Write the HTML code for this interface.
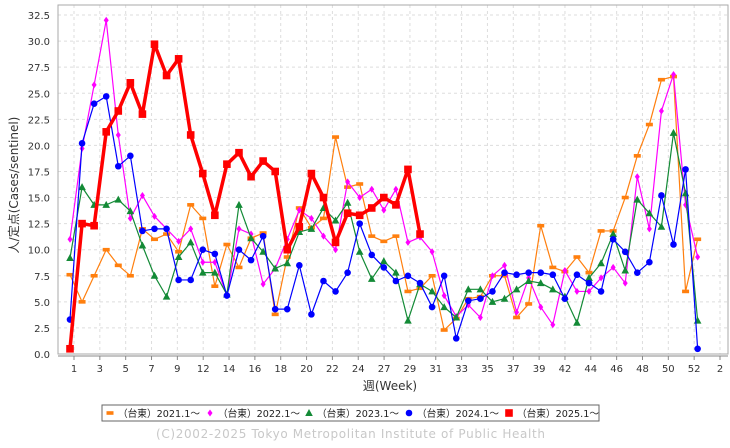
<!DOCTYPE html>
<html><head><meta charset="utf-8"><style>
body{margin:0;background:#fff;font-family:"Liberation Sans","Noto Sans CJK JP",sans-serif}
svg text{font-family:"DejaVu Sans","Noto Sans CJK JP",sans-serif}
</style></head><body>
<svg id="chart" width="730" height="443" viewBox="0 0 730 443" xmlns="http://www.w3.org/2000/svg">
<g id="grid"></g>
<rect x="58" y="5" width="670" height="349" fill="none" stroke="#aaa" stroke-width="1"/>
<g id="axes"></g>
<g id="series"></g>
<text transform="translate(18,185) rotate(-90)" text-anchor="middle" font-size="12" fill="#333">人/定点(Cases/sentinel)</text>
<text x="390" y="390" text-anchor="middle" font-size="12" fill="#333">週(Week)</text>
<g>
<rect x="102" y="405" width="497" height="16" fill="#fff" stroke="#666"/>
<g id="legend"></g>
</g>
<text x="156" y="438" font-size="12" fill="#c8c8c8" textLength="389" lengthAdjust="spacing">(C)2002-2025 Tokyo Metropolitan Institute of Public Health</text>
</svg>
<script>
const yTicks=[0,2.5,5,7.5,10,12.5,15,17.5,20,22.5,25,27.5,30,32.5];
const xTickLabels=["1","3","5","7","9","12","14","16","18","20","22","24","27","29","31","33","35","37","39","42","44","46","48","50","52","2"];
const seriesNames=["（台東）2021.1～","（台東）2022.1～","（台東）2023.1～","（台東）2024.1～","（台東）2025.1～"];
const s2021=[7.6,5.0,7.5,10.0,8.5,7.5,12.0,11.0,11.5,9.8,14.3,13.0,6.5,10.5,8.3,11.1,11.6,3.8,9.3,14.0,12.1,13.0,20.8,16.0,16.3,11.3,10.8,11.3,6.0,6.3,7.5,2.3,3.4,5.3,5.5,7.5,7.5,3.5,4.8,12.3,8.3,7.9,9.3,7.8,11.8,11.8,15.0,19.0,22.0,26.3,26.6,6.0,11.0];
const s2022=[11.0,19.7,25.8,32.0,21.0,13.0,15.2,13.2,12.0,10.8,12.0,8.8,8.8,5.6,12.0,11.5,6.7,8.2,11.0,13.8,13.0,11.3,10.0,16.5,15.0,15.8,13.8,15.8,10.7,11.2,9.8,5.6,3.6,4.7,3.5,7.5,8.5,4.0,7.3,4.5,2.8,8.0,6.0,6.0,7.3,8.3,6.8,17.0,12.0,23.3,26.8,14.3,9.3];
const s2023=[9.2,16.0,14.3,14.3,14.8,13.7,10.4,7.5,5.5,9.3,10.7,7.8,7.8,5.7,14.3,11.1,9.8,8.2,8.7,11.7,12.0,14.0,12.8,14.5,9.8,7.2,8.9,7.8,3.2,6.7,6.0,4.5,3.5,6.2,6.2,5.0,5.3,6.2,7.0,6.8,6.2,5.5,3.0,7.3,8.7,11.5,8.0,14.8,13.5,12.2,21.2,15.4,3.2];
const s2024=[3.3,20.2,24.0,24.7,18.0,19.0,11.8,12.0,12.0,7.1,7.1,10.0,9.6,5.6,10.0,9.0,11.3,4.3,4.3,8.5,3.8,7.0,6.0,7.8,12.5,9.5,8.3,7.0,7.5,6.8,4.5,7.5,1.5,5.1,5.3,6.0,7.8,7.6,7.8,7.8,7.6,5.3,7.6,6.8,6.0,11.0,9.8,7.8,8.8,15.2,10.5,17.7,0.5];
const s2025=[0.5,12.5,12.3,21.3,23.3,26.0,23.0,29.7,26.7,28.3,21.0,17.3,13.3,18.2,19.3,17.0,18.5,17.5,10.0,12.2,17.3,15.0,10.7,13.5,13.3,14.0,15.0,14.3,17.7,11.5];
const NS="http://www.w3.org/2000/svg";
const yScale=v=>354-v*10.43;
const xScale=w=>70+(w-1)*12.07;
const xTickPos=i=>74+i*25.84;
function mk(tag,attrs,parent){const e=document.createElementNS(NS,tag);for(const k in attrs)e.setAttribute(k,attrs[k]);parent.appendChild(e);return e;}
const grid=document.getElementById('grid'),axes=document.getElementById('axes'),ser=document.getElementById('series'),leg=document.getElementById('legend');
yTicks.forEach(t=>{const y=yScale(t);
 if(t>0){const l=mk('line',{x1:58,x2:728,y1:y,y2:y,stroke:'#ddd','stroke-dasharray':'3,3'},grid);
 
 }
 const tx=mk('text',{x:50,y:y+4,'text-anchor':'end','font-size':'10',fill:'#333'},axes);tx.textContent=t.toFixed(1);
 
 
});
xTickLabels.forEach((lab,i)=>{const x=xTickPos(i);
 const l=mk('line',{x1:x,x2:x,y1:5,y2:354,stroke:'#ddd','stroke-dasharray':'3,3'},grid);
 
 
 mk('line',{x1:x,x2:x,y1:356,y2:360,stroke:'#888'},axes);
 const tx=mk('text',{x:x,y:372,'text-anchor':'middle','font-size':'10',fill:'#333'},axes);tx.textContent=lab;
 
 
});
mk('line',{x1:58,x2:728,y1:356,y2:356,stroke:'#888'},axes);
const colors=['#ff7f0e','#ff00ff','#138a36','#0000ff','#ff0000'];
const datas=[s2021,s2022,s2023,s2024,s2025];
const widths=[1.2,1.2,1.2,1.2,3.5];
function marker(k,x,y,g){
 const c=colors[k];
 if(k===0)return mk('rect',{x:x-3.5,y:y-1.8,width:7,height:3.6,fill:c},g);
 if(k===1)return mk('polygon',{points:`${x},${y-3.5} ${x+2.5},${y} ${x},${y+3.5} ${x-2.5},${y}`,fill:c},g);
 if(k===2)return mk('polygon',{points:`${x},${y-4} ${x+3.8},${y+3} ${x-3.8},${y+3}`,fill:c},g);
 if(k===3)return mk('circle',{cx:x,cy:y,r:3.3,fill:c},g);
 return mk('rect',{x:x-3.8,y:y-3.8,width:7.6,height:7.6,fill:c},g);
}
const names=['series-2021','series-2022','series-2023','series-2024','series-2025'];
datas.forEach((d,k)=>{
 const g=mk('g',{},ser);
 
 
 const pts=d.map((v,i)=>xScale(i+1)+','+yScale(v)).join(' ');
 const pl=mk('polyline',{points:pts,fill:'none',stroke:colors[k],'stroke-width':widths[k],'stroke-linejoin':'round'},g);
 
 
 d.forEach((v,i)=>{const m=marker(k,xScale(i+1),yScale(v),g);
  
  });
});
const legX=[107,207,306,406,506];
seriesNames.forEach((n,k)=>{
 const g=mk('g',{},leg);
 
 
 marker(k,legX[k]+3,413,g);
 const t=mk('text',{x:legX[k]+11,y:417,'font-size':'10',fill:'#222',textLength:'82',lengthAdjust:'spacingAndGlyphs'},g);t.textContent=n;
});
</script>
</body></html>
